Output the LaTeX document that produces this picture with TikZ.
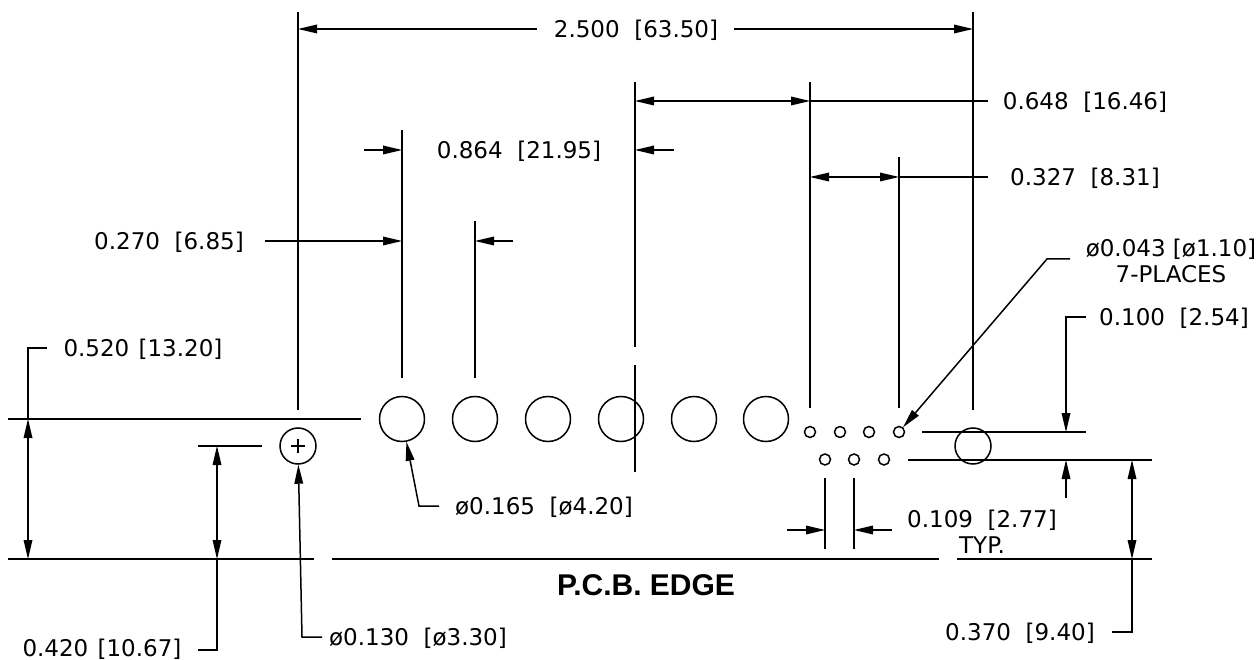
\documentclass[tikz,border=0pt]{standalone}
\usepackage{fontspec}
\setmainfont{DejaVu Sans}
\newfontfamily\edgefont{Liberation Sans}
\usetikzlibrary{arrows.meta}

\begin{document}
\begin{tikzpicture}[x=1pt, y=-1pt, line width=1.5pt,
        % Estilos de la cota
        dimtip/.style={-{Triangle[length=19pt,width=9pt,line width=0pt]}},
        dimboth/.style={{Triangle[length=19pt,width=9pt,line width=0pt]}-{Triangle[length=19pt,width=9pt,line width=0pt]}},
        dimtext/.style={inner sep=0pt, font=\fontsize{23}{26}\selectfont, align=center},
        bighole/.style={draw, circle, minimum size=45pt, inner sep=0pt},
        midhole/.style={draw, circle, minimum size=36pt, inner sep=0pt},
        smallhole/.style={draw, circle, minimum size=11pt, inner sep=0pt}
    ]
        \useasboundingbox (0,0) rectangle (1259,660);

        % Holes
        \foreach \n/\x in {1/402, 2/475, 3/548, 4/621, 5/694, 6/766}
            \node[bighole] (hole\n) at (\x,419) {};
        \foreach \n/\x in {1/810, 2/840, 3/869, 4/899}
            \node[smallhole] (top\n) at (\x,432) {};
        \foreach \n/\x in {1/825, 2/854, 3/884}
            \node[smallhole] (low\n) at (\x,459.5) {};
        \node[midhole] (pin) at (298,446) {};
        \node[midhole] (post) at (973,446) {};
        \draw[line width=1.2pt] (291,446) -- (305,446) (298,439) -- (298,453);

        % Extension lines
        \draw (298,12) -- (298,410);
        \draw (973,12) -- (973,410);
        \draw (402,130) -- (402,378);
        \draw (475,221) -- (475,378);
        \draw (635,82) -- (635,347);
        \draw (635,365) -- (635,472);
        \draw (810,82) -- (810,408);
        \draw (899,157) -- (899,408);
        \draw (825,478) -- (825,549);
        \draw (854,478) -- (854,549);

        \draw (8,419) -- (361,419);
        \draw (198,446) -- (262,446);
        \draw (922,432) -- (1086,432);
        \draw (908,460) -- (1152,460);
        \draw (8,559) -- (314,559);
        \draw (332,559) -- (939,559);
        \draw (957,559) -- (1152,559);

        % Labels
        \node[dimtext] (overall) at (636,30) {2.500~~[63.50]};
        \node[dimtext] (pitchA) at (1085,102) {0.648~~[16.46]};
        \node[dimtext] (pitchB) at (1085,178) {0.327~~[8.31]};
        \node[dimtext] (span) at (519,151) {0.864~~[21.95]};
        \node[dimtext] (pitchC) at (169,242) {0.270~~[6.85]};
        \node[dimtext] (drill) at (1171,261) {ø0.043~[ø1.10]\\7-PLACES};
        \node[dimtext] (row) at (1174,318) {0.100~~[2.54]};
        \node[dimtext] (height) at (143,349) {0.520~\kern2pt[13.20]};
        \node[dimtext] (holedia) at (544,507) {ø0.165~~[ø4.20]};
        \node[dimtext] (stagger) at (982,532) {0.109~~[2.77]\\TYP.};
        \node[dimtext] (pindia) at (418,638) {ø0.130~~[ø3.30]};
        \node[dimtext] (edgeoff) at (1020,633) {0.370~~[9.40]};
        \node[dimtext] (pinoff) at (102,649) {0.420~\kern2pt[10.67]};
        \node[inner sep=0pt, font=\edgefont\bfseries\fontsize{30}{34}\selectfont] (edge) at (646,585) {P.C.B. EDGE};

        % Dimensions
        \draw[dimtip] (537,29) -- (298,29);
        \draw[dimtip] (734,29) -- (973,29);
        \draw[dimboth] (635,101) -- (810,101);
        \draw (810,101) -- (988,101);
        \draw[dimboth] (810,177) -- (899,177);
        \draw (899,177) -- (988,177);
        \draw[dimtip] (364,150) -- (402,150);
        \draw[dimtip] (674,150) -- (635,150);
        \draw[dimtip] (265,241) -- (402,241);
        \draw[dimtip] (513,241) -- (475,241);
        \draw[dimtip] (787,530) -- (825,530);
        \draw[dimtip] (892,530) -- (854,530);

        \draw[dimtip] (1086,317) -- (1066,317) -- (1066,432);
        \draw[dimtip] (1066,498) -- (1066,460);
        \draw (47,348) -- (28,348) -- (28,419);
        \draw[dimboth] (28,419) -- (28,559);
        \draw[dimboth] (217,446) -- (217,559);
        \draw (217,559) -- (217,650) -- (198,650);
        \draw[dimboth] (1132,460) -- (1132,559);
        \draw (1132,559) -- (1132,632) -- (1112,632);

        % Leaders
        \draw[dimtip] (1070,259) -- (1047,259) -- (top4);
        \draw[dimtip] (439,506) -- (419,506) -- (hole1);
        \draw[dimtip] (322,637) -- (302,637) -- (pin);
    \end{tikzpicture}
\end{document}
